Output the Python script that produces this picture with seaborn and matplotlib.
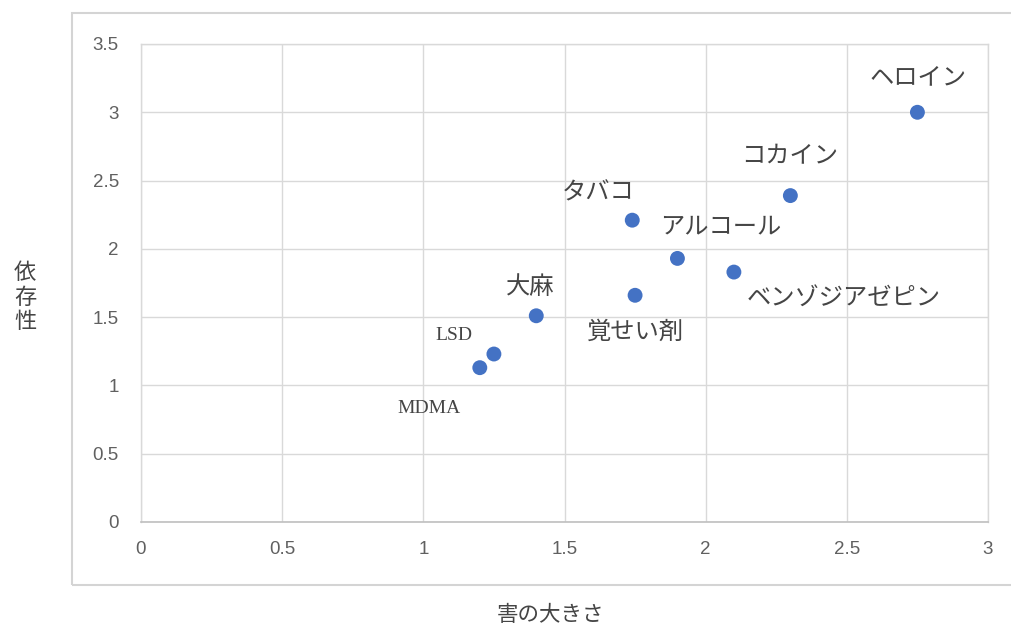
import matplotlib
matplotlib.use("Agg")
import matplotlib.pyplot as plt
from matplotlib.patches import Rectangle
import seaborn as sns
import pandas as pd

# Drugs: harm (x) vs. dependence (y)
drugs = ["ヘロイン", "コカイン", "タバコ", "アルコール", "ベンゾジアゼピン",
         "覚せい剤", "大麻", "LSD", "MDMA"]
harm = [2.75, 2.30, 1.74, 1.90, 2.10, 1.75, 1.40, 1.25, 1.20]
dependence = [3.00, 2.39, 2.21, 1.93, 1.83, 1.66, 1.51, 1.23, 1.13]

x_ticks = [0, 0.5, 1, 1.5, 2, 2.5, 3]
x_tick_labels = ["0", "0.5", "1", "1.5", "2", "2.5", "3"]
y_ticks = [0, 0.5, 1, 1.5, 2, 2.5, 3, 3.5]
y_tick_labels = ["0", "0.5", "1", "1.5", "2", "2.5", "3", "3.5"]

x_title = "害の大きさ"
y_title = "依存性"

# label offsets (pixels) from each point
label_offsets = {
    "ヘロイン": (1, 35),
    "コカイン": (-1, 39),
    "タバコ": (-34, 28),
    "アルコール": (43, 32),
    "ベンゾジアゼピン": (110, -26),
    "覚せい剤": (0, -37),
    "大麻": (-6, 29),
    "LSD": (-40, 19),
    "MDMA": (-51, -41),
}

sns.set_style("white")
plt.rcParams["font.family"] = ["Noto Sans CJK JP", "DejaVu Sans"]

df = pd.DataFrame({"drug": drugs, "harm": harm, "dependence": dependence})

fig = plt.figure(figsize=(10.11, 6.33), dpi=100)
ax = fig.add_axes([141 / 1011, 1 - 522 / 633, (988 - 141) / 1011, (522 - 44) / 633])

sns.scatterplot(data=df, x="harm", y="dependence", ax=ax, s=115,
                color="#4472C4", edgecolor="none", zorder=3)

ax.set_xlim(0, 3)
ax.set_ylim(0, 3.5)
ax.set_xticks(x_ticks)
ax.set_xticklabels(x_tick_labels)
ax.set_yticks(y_ticks)
ax.set_yticklabels(y_tick_labels)
ax.set_xlabel("")
ax.set_ylabel("")

grid_color = "#d9d9d9"
ax.grid(True, color=grid_color, linewidth=1.0, zorder=0)
ax.set_axisbelow(True)
for side in ["left", "top", "right"]:
    ax.spines[side].set_color(grid_color)
    ax.spines[side].set_linewidth(1.0)
ax.spines["bottom"].set_color("#bfbfbf")
ax.spines["bottom"].set_linewidth(1.2)

tick_font = ["Liberation Sans Narrow", "Liberation Sans", "DejaVu Sans"]
ax.tick_params(axis="both", length=0, labelcolor="#606060", labelsize=13.5)
ax.tick_params(axis="y", pad=16)
ax.tick_params(axis="x", pad=14)
for lab in ax.get_xticklabels() + ax.get_yticklabels():
    lab.set_family(tick_font)

for name, xv, yv in zip(drugs, harm, dependence):
    dx, dy = label_offsets[name]
    if name.isascii():
        fam = ["Liberation Serif", "DejaVu Serif"]
        size = 14
    else:
        fam = ["Noto Sans CJK JP", "DejaVu Sans"]
        size = 17.5
    ax.annotate(name, (xv, yv), xytext=(dx, dy), textcoords="offset pixels",
                ha="center", va="center", fontsize=size, color="#454545",
                family=fam, zorder=4)

# outer chart-area frame
frame = Rectangle((72 / 1011, 1 - 585 / 633), 1.0, (585 - 13) / 633,
                  transform=fig.transFigure, fill=False,
                  edgecolor="#d4d4d4", linewidth=1.5, clip_on=False)
fig.patches.append(frame)

fig.text(25 / 1011, 1 - 297 / 633, "\n".join(y_title), ha="center", va="center",
         fontsize=16, color="#454545", linespacing=1.1)
fig.text(550 / 1011, 1 - 615 / 633, x_title, ha="center", va="center",
         fontsize=15.5, color="#454545")

fig.savefig("out.png", dpi=100, facecolor="white")
